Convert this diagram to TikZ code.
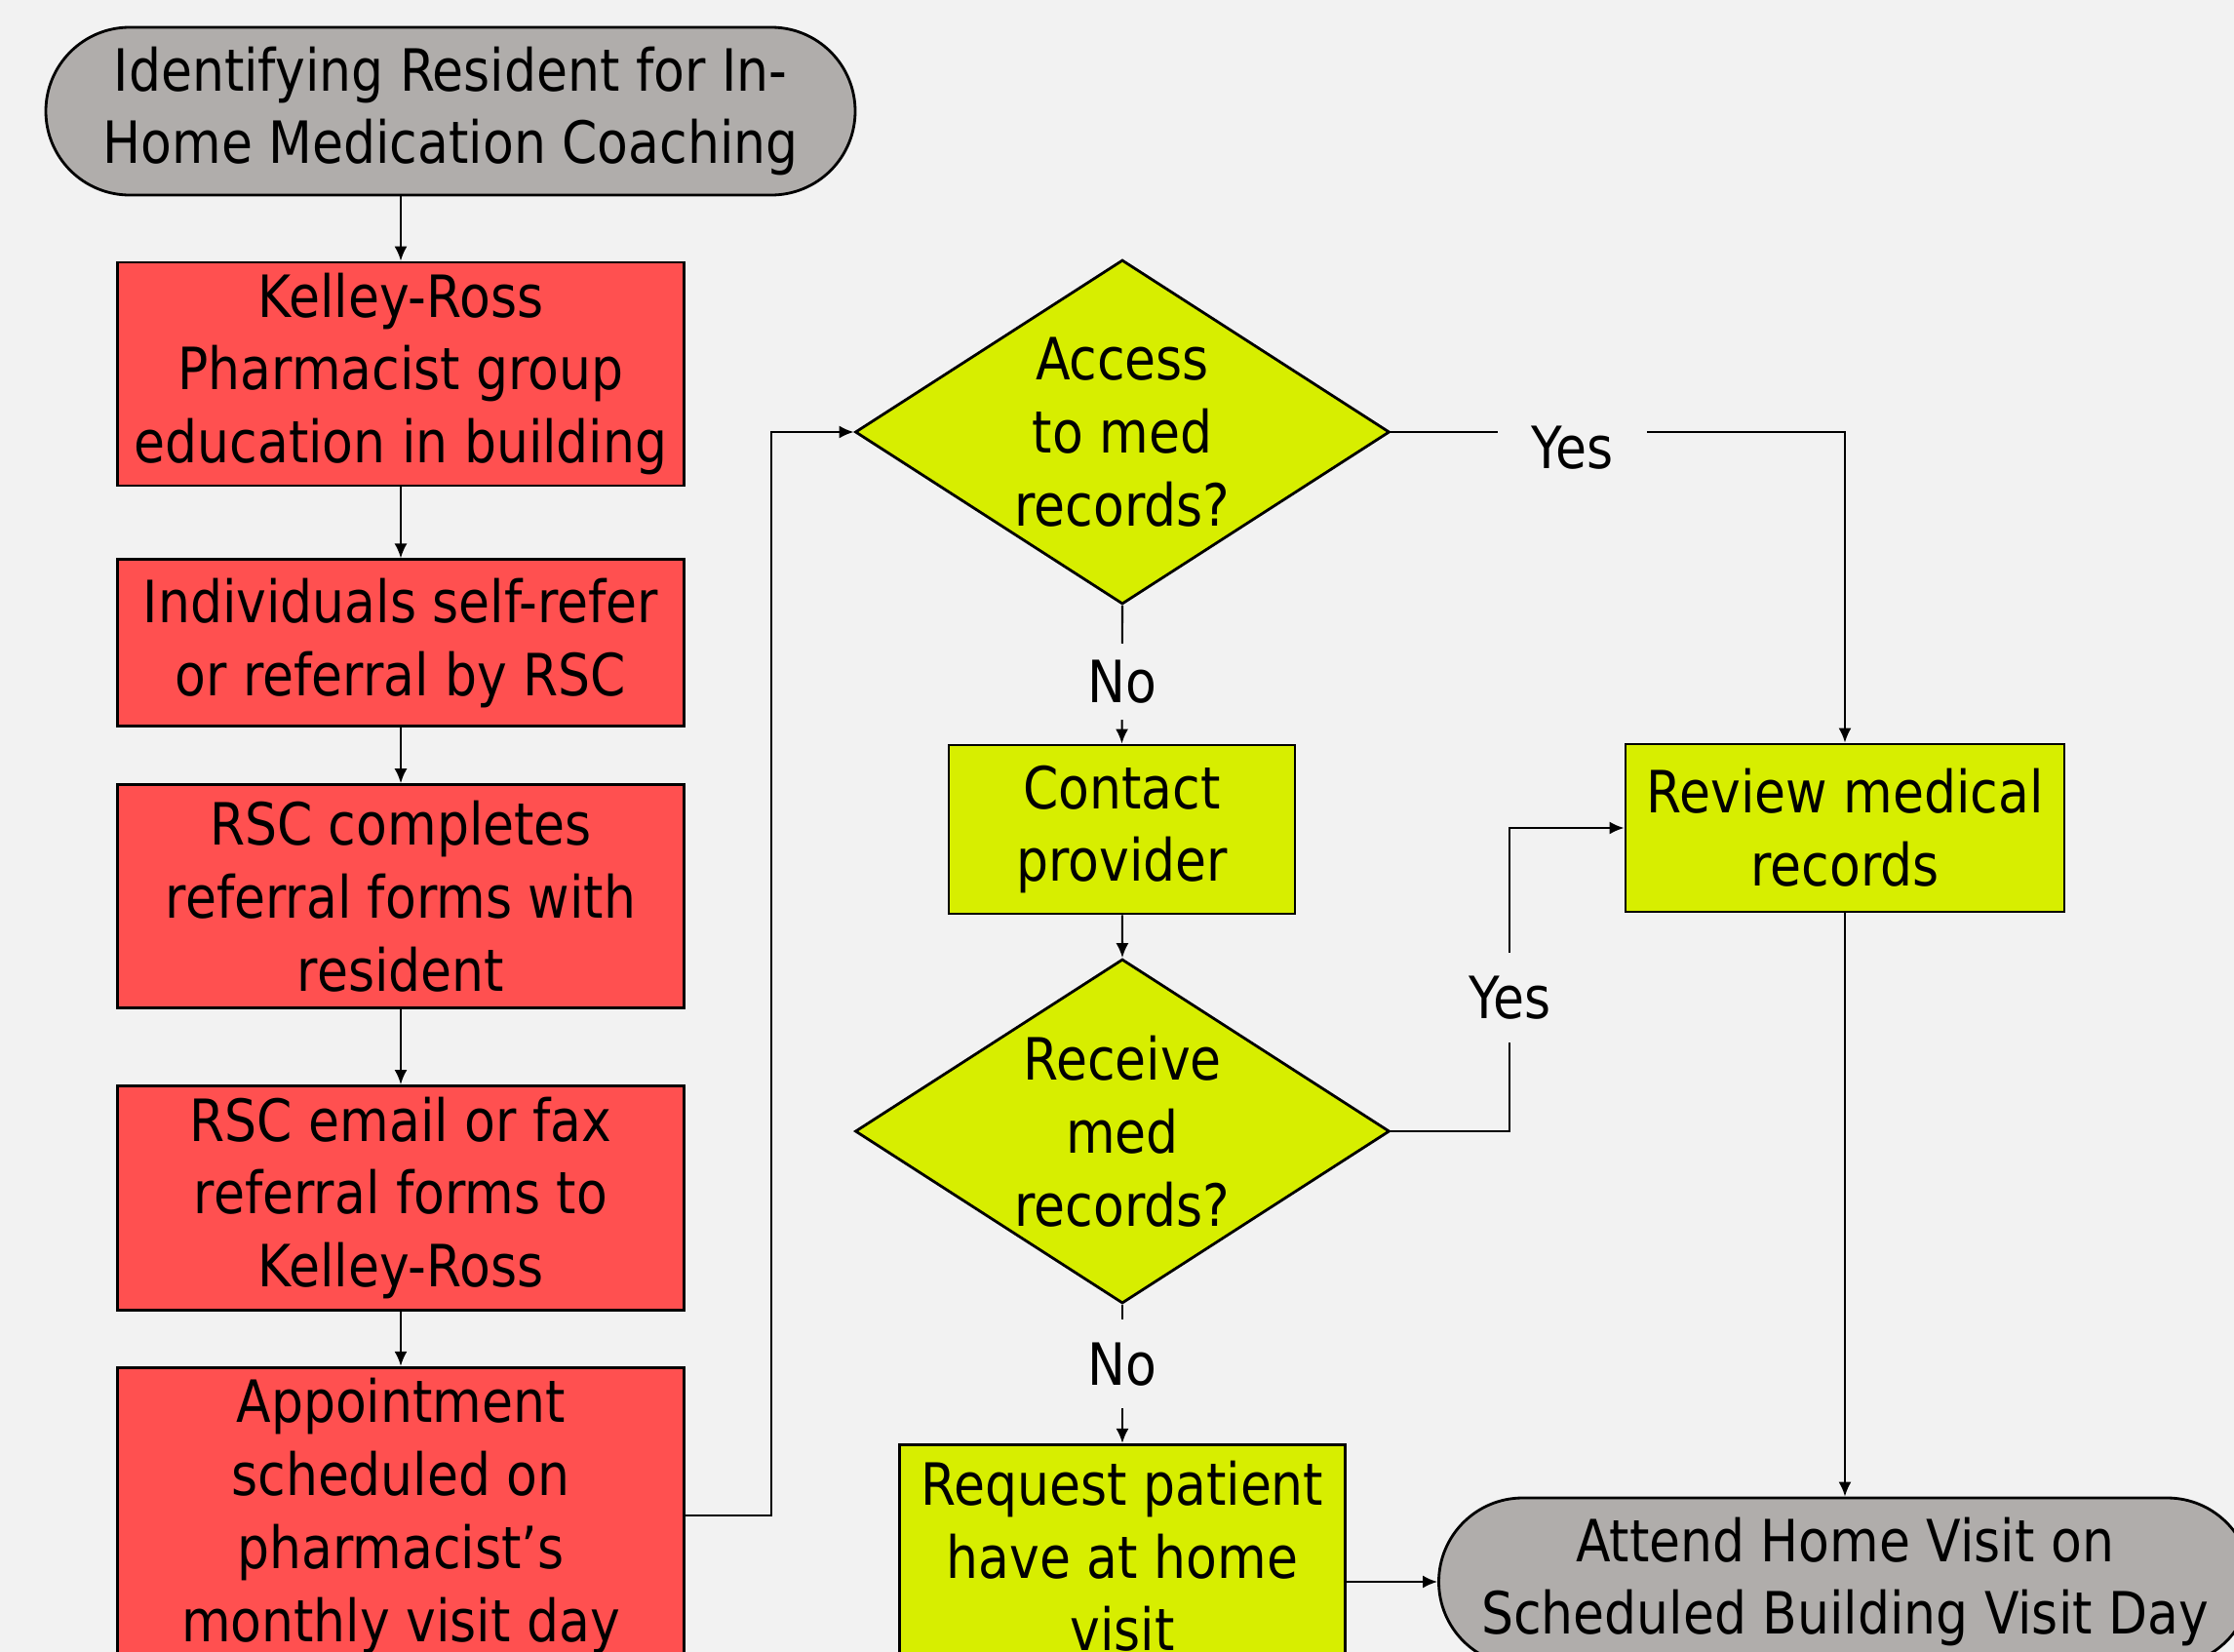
\documentclass[tikz,border=0pt]{standalone}
\usepackage{fontspec}
\setmainfont{DejaVu Sans}[FakeStretch=0.87]
\usetikzlibrary{arrows.meta,positioning,shapes.geometric,shapes.misc}

\definecolor{pagebg}{HTML}{F2F2F2}
\definecolor{termgray}{HTML}{B0ADAB}
\definecolor{stepred}{HTML}{FF5050}
\definecolor{steplime}{HTML}{D7EE00}

\tikzset{
  every node/.style={font=\fontsize{17pt}{21.3pt}\selectfont, align=center},
  terminal/.style={rounded rectangle, draw, line width=0.8pt, fill=termgray,
    minimum width=8.3cm, minimum height=1.72cm, inner sep=0pt},
  process/.style={rectangle, draw, line width=0.8pt, fill=stepred,
    minimum width=5.81cm, inner sep=0pt},
  check/.style={rectangle, draw, line width=0.8pt, fill=steplime, inner sep=0pt},
  decision/.style={diamond, draw, line width=0.8pt, fill=steplime, aspect=1.6,
    minimum width=5.48cm, minimum height=3.53cm, inner sep=0pt},
  flow/.style={draw, line width=0.6pt, -{Latex[length=0.15cm, width=0.13cm]}},
  tag/.style={fill=pagebg, inner sep=0pt}
}

\begin{document}
\begin{tikzpicture}
	\useasboundingbox (0,0) rectangle (22.91,-16.94);
	\fill[pagebg] (0,0) rectangle (22.91,-16.94);
	\clip (0,0) rectangle (22.91,-16.94);

	\node[terminal] (start) at (4.62,-1.14) {Identifying Resident for In-\\Home Medication Coaching};
	\node[process, minimum height=2.29cm] (kelley) at (4.11,-3.835) {Kelley-Ross\\Pharmacist group\\education in building};
	\node[process, minimum height=1.71cm] (selfref) [below=0.73cm of kelley] {Individuals self-refer\\or referral by RSC};
	\node[process, minimum height=2.29cm] (forms) [below=0.57cm of selfref] {RSC completes\\referral forms with\\resident};
	\node[process, minimum height=2.30cm] (faxed) [below=0.77cm of forms] {RSC email or fax\\referral forms to\\Kelley-Ross};
	\node[process, minimum height=3.04cm] (appt) [below=0.56cm of faxed] {Appointment\\scheduled on\\pharmacist’s\\monthly visit day};

	\node[decision] (access) at (11.51,-4.43) {Access\\to med\\records?};
	\node[check, minimum width=3.55cm, minimum height=1.73cm] (contact) at (11.505,-8.505) {Contact\\provider};
	\node[decision] (receive) at (11.51,-11.60) {Receive\\med\\records?};
	\node[check, minimum width=4.57cm, minimum height=2.29cm] (request) [below=1.42cm of receive] {Request patient\\have at home\\visit};

	\node[check, minimum width=4.50cm, minimum height=1.72cm] (review) at (18.92,-8.49) {Review medical\\records};
	\node[terminal, minimum width=8.33cm] (attend) at (18.92,-16.22) {Attend Home Visit on\\Scheduled Building Visit Day};

	\draw[flow] (kelley.north |- start.south) -- (kelley.north);
	\draw[flow] (kelley) -- (selfref);
	\draw[flow] (selfref) -- (forms);
	\draw[flow] (forms) -- (faxed);
	\draw[flow] (faxed) -- (appt);
	\draw[flow] (appt.east) -- ++(0.88,0) |- (access.west);

	\draw[flow] (access.east) -- (review.north |- access.east)
		node[tag, pos=0.4, yshift=-0.16cm, minimum width=1.53cm, minimum height=0.6cm] {Yes} -- (review.north);
	\draw[flow] (access.south) -- (contact.north)
		node[tag, pos=0.55, minimum height=0.78cm] {No};
	\draw[flow] (contact) -- (receive.north);
	\draw[flow] (receive.east) -- ++(1.22,0) |- (review.west)
		node[tag, pos=0.22, minimum height=0.92cm] {Yes};
	\draw[flow] (receive.south) -- (request.north)
		node[tag, pos=0.43, minimum height=0.91cm] {No};
	\draw[flow] (request.east |- attend.west) -- (attend.west);
	\draw[flow] (review) -- (attend.north);
\end{tikzpicture}
\end{document}
